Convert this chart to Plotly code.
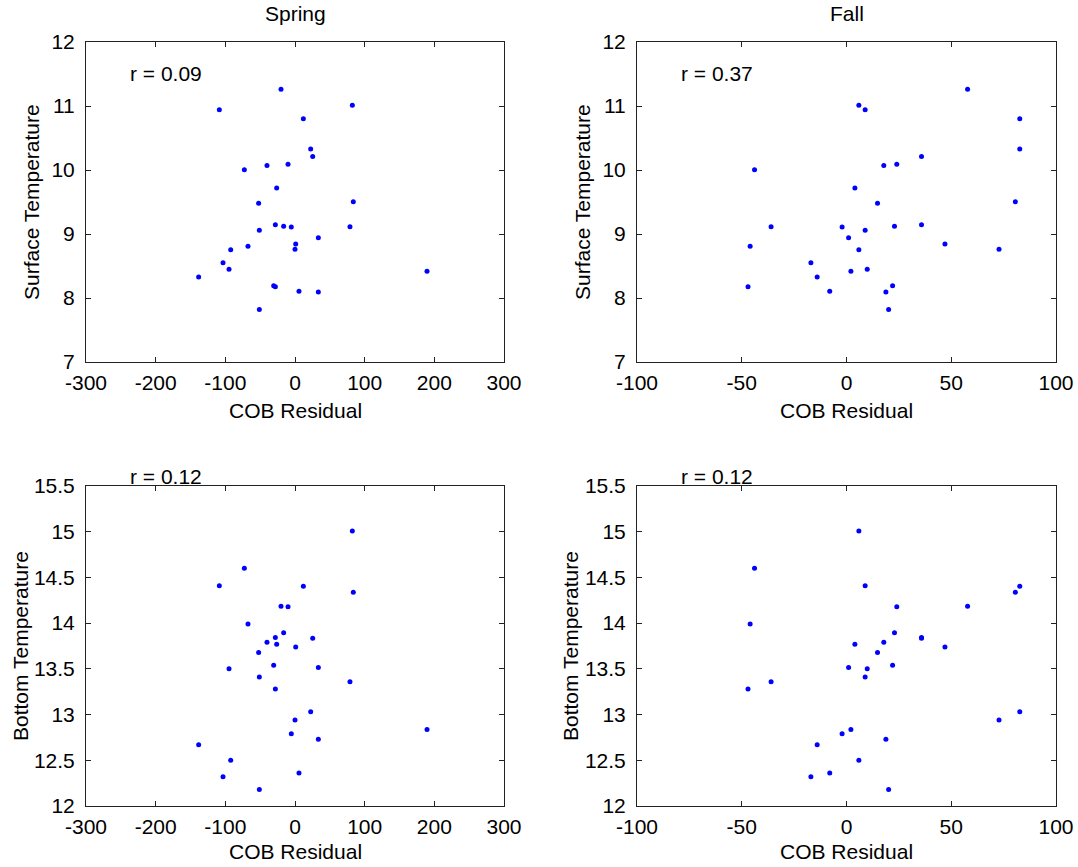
import plotly.graph_objects as go

# Station data
spring_cob = [-138.3, -108.6, -103.3, -94.7, -92.3, -72.7, -67.5, -52.2, -51.2, -51.2,
              -40.2, -30.6, -28.2, -28.2, -26.3, -20.1, -16.3, -10.0, -5.3, 0.0,
              1.0, 5.7, 12.0, 22.5, 25.4, 33.5, 33.5, 78.9, 82.3, 83.7, 189.5]
fall_cob = [-14.0, 8.9, -17.0, 9.9, 5.9, -43.9, -46.0, 14.8, 8.9, 20.1,
            17.8, 22.0, 35.8, -47.0, 4.0, 57.8, 22.9, 24.0, -2.1, 72.8,
            47.0, -8.0, 82.7, 82.7, 35.8, 1.0, 18.8, -36.0, 5.9, 80.6, 2.1]
surface_temp = [8.33, 10.94, 8.55, 8.45, 8.755, 10.005, 8.81, 9.48, 9.06, 7.82,
                10.07, 8.19, 9.146, 8.177, 9.72, 11.26, 9.12, 10.09, 9.11, 8.76,
                8.844, 8.104, 10.80, 10.33, 10.21, 8.943, 8.094, 9.115, 11.01, 9.505, 8.417]
bottom_temp = [12.67, 14.41, 12.32, 13.50, 12.50, 14.60, 13.99, 13.68, 13.41, 12.18,
               13.79, 13.54, 13.844, 13.28, 13.77, 14.185, 13.895, 14.18, 12.79, 12.94,
               13.74, 12.36, 14.404, 13.03, 13.836, 13.515, 12.73, 13.36, 15.007, 14.338, 12.836]

r_labels = ["r = 0.09", "r = 0.37", "r = 0.12", "r = 0.12"]
panel_titles = ["Spring", "Fall"]
x_label = "COB Residual"
y_labels = ["Surface Temperature", "Bottom Temperature"]

spring_xticks = [-300, -200, -100, 0, 100, 200, 300]
spring_xticktext = ["-300", "-200", "-100", "0", "100", "200", "300"]
fall_xticks = [-100, -50, 0, 50, 100]
fall_xticktext = ["-100", "-50", "0", "50", "100"]
surface_yticks = [7, 8, 9, 10, 11, 12]
surface_yticktext = ["7", "8", "9", "10", "11", "12"]
bottom_yticks = [12, 12.5, 13, 13.5, 14, 14.5, 15, 15.5]
bottom_yticktext = ["12", "12.5", "13", "13.5", "14", "14.5", "15", "15.5"]

W, H = 1078, 867
FONT = "Liberation Sans, Arial, sans-serif"
FS = 21
AX = "#222222"

def px_x(p):
    return p / W

def px_y(p):
    return 1 - p / H

dom_x = [[px_x(86), px_x(504)], [px_x(637), px_x(1056)]]
dom_y = [[px_y(362), px_y(42)], [px_y(806), px_y(486)]]

fig = go.Figure()

panels = [
    (0, 0, spring_cob, surface_temp, spring_xticks, spring_xticktext, surface_yticks, surface_yticktext, [-300, 300], [7, 12]),
    (0, 1, fall_cob, surface_temp, fall_xticks, fall_xticktext, surface_yticks, surface_yticktext, [-100, 100], [7, 12]),
    (1, 0, spring_cob, bottom_temp, spring_xticks, spring_xticktext, bottom_yticks, bottom_yticktext, [-300, 300], [12, 15.5]),
    (1, 1, fall_cob, bottom_temp, fall_xticks, fall_xticktext, bottom_yticks, bottom_yticktext, [-100, 100], [12, 15.5]),
]

annotations = []
for i, (r, c, xs, ys, xt, xtt, yt, ytt, xr, yr) in enumerate(panels):
    n = i + 1
    xa = "x" if n == 1 else f"x{n}"
    ya = "y" if n == 1 else f"y{n}"
    fig.add_trace(go.Scatter(x=xs, y=ys, mode="markers",
                             marker=dict(color="#0000ff", size=5),
                             xaxis=xa, yaxis=ya, showlegend=False, cliponaxis=False))
    axcommon = dict(showline=True, linecolor=AX, linewidth=1, mirror="ticks",
                    ticks="inside", ticklen=5, tickcolor=AX, tickwidth=1,
                    showgrid=False, zeroline=False, automargin=False,
                    tickfont=dict(family=FONT, size=FS, color="black"))
    fig.update_layout({
        ("xaxis" if n == 1 else f"xaxis{n}"): dict(
            domain=dom_x[c], range=xr, tickvals=xt, ticktext=xtt, anchor=ya,
            ticklabelstandoff=2, **axcommon),
        ("yaxis" if n == 1 else f"yaxis{n}"): dict(
            domain=dom_y[r], range=yr, tickvals=yt, ticktext=ytt, anchor=xa,
            ticklabelstandoff=6, **axcommon),
    })
    # r label: position in axis-domain fractions (bottom-row labels sit on the top border)
    rx = 0.10 if c == 0 else 0.10
    ry = 0.90 if r == 0 else 1.031
    annotations.append(dict(x=rx, y=ry, xref=f"{xa} domain", yref=f"{ya} domain",
                            text=r_labels[i],
                            showarrow=False, xanchor="left", yanchor="middle",
                            font=dict(family=FONT, size=FS, color="black")))

for c in range(2):
    annotations.append(dict(x=sum(dom_x[c]) / 2, y=px_y(14), xref="paper", yref="paper",
                            text=panel_titles[c], showarrow=False,
                            xanchor="center", yanchor="middle",
                            font=dict(family=FONT, size=FS, color="black")))
for r, yy in enumerate([410, 851]):
    for c in range(2):
        annotations.append(dict(x=sum(dom_x[c]) / 2, y=px_y(yy), xref="paper", yref="paper",
                                text=x_label, showarrow=False,
                                xanchor="center", yanchor="middle",
                                font=dict(family=FONT, size=FS, color="black")))
ytitle_x = [[32, 583], [20, 570]]
for r in range(2):
    for c in range(2):
        annotations.append(dict(x=px_x(ytitle_x[r][c]), y=sum(dom_y[r]) / 2,
                                xref="paper", yref="paper", text=y_labels[r],
                                showarrow=False, textangle=-90,
                                xanchor="center", yanchor="middle",
                                font=dict(family=FONT, size=FS, color="black")))

fig.update_layout(template="none", width=W, height=H,
                  margin=dict(l=0, r=0, t=0, b=0, pad=0, autoexpand=False),
                  paper_bgcolor="white", plot_bgcolor="white",
                  annotations=annotations,
                  font=dict(family=FONT, size=FS, color="black"))

fig.write_html("out.html",
               config={"displayModeBar": False},
               post_script="document.body.style.margin='0px';document.body.style.overflow='hidden';")
